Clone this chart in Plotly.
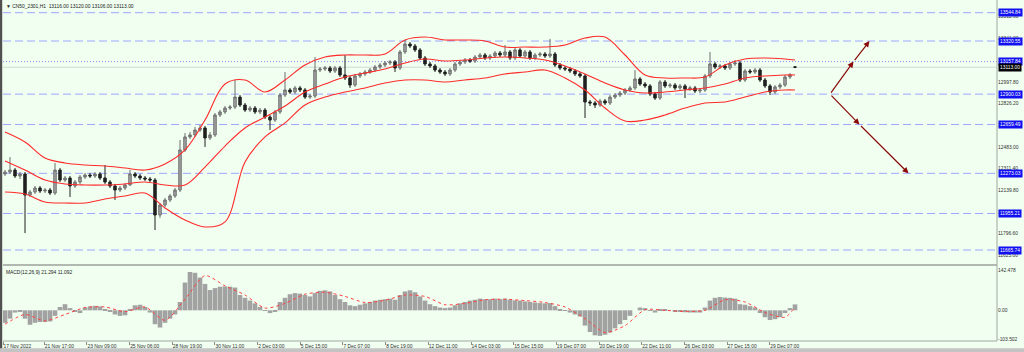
import plotly.graph_objects as go

# ---------------- data ----------------
closes = [12283,12299,12252,12268,12101,12125,12157,12133,12141,12117,
          12299,12220,12236,12173,12204,12244,12260,12252,12268,12236,
          12204,12173,12141,12157,12181,12268,12252,12236,12228,12220,
          11943,12022,12062,12094,12141,12458,12561,12577,12616,12632,
          12553,12577,12735,12759,12790,12798,12877,12814,12774,12790,
          12759,12774,12719,12695,12759,12893,12933,12917,12949,12933,
          12877,12885,13091,13099,13107,13083,13107,13052,13028,12972,
          13044,13060,13075,13091,13115,13131,13147,13155,13107,13234,
          13297,13281,13250,13186,13139,13123,13091,13075,13060,13091,
          13139,13155,13170,13162,13194,13210,13186,13202,13226,13210,
          13234,13186,13250,13202,13234,13186,13210,13218,13202,13218,
          13131,13107,13099,13083,13060,13044,12838,12830,12814,12846,
          12830,12877,12893,12909,12933,12949,13020,12980,12965,12901,
          12869,12996,12965,12972,12949,12965,12941,12949,12925,12933,
          13044,13139,13115,13123,13107,13139,13147,13012,13083,13075,
          13091,13012,12965,12917,12957,12972,13036,13052,13113]
opens = [12268,12283,12299,12252,12268,12101,12125,12157,12133,12141,
         12117,12299,12220,12236,12173,12204,12244,12260,12252,12268,
         12236,12204,12173,12141,12157,12181,12268,12252,12236,12228,
         12220,11943,12022,12062,12094,12141,12458,12561,12577,12616,
         12632,12553,12577,12735,12759,12790,12798,12877,12814,12774,
         12790,12759,12774,12719,12695,12759,12893,12933,12917,12949,
         12933,12877,12885,13091,13099,13107,13083,13107,13052,13028,
         12972,13044,13060,13075,13091,13115,13131,13147,13155,13107,
         13234,13297,13281,13250,13186,13139,13123,13091,13075,13060,
         13091,13139,13155,13170,13162,13194,13210,13186,13202,13226,
         13210,13234,13186,13250,13202,13234,13186,13210,13218,13202,
         13218,13131,13107,13099,13083,13060,13044,12838,12830,12814,
         12846,12830,12877,12893,12909,12933,12949,13020,12980,12965,
         12901,12869,12996,12965,12972,12949,12965,12941,12949,12925,
         12933,13044,13139,13115,13123,13107,13139,13147,13012,13083,
         13075,13091,13012,12965,12917,12957,12972,13036,13116]
highs = [12300,12402,12315,12283,12283,12141,12173,12173,12157,12157,
         12355,12315,12252,12252,12220,12260,12276,12276,12283,12283,
         12339,12220,12189,12173,12196,12300,12283,12268,12252,12244,
         12236,12038,12078,12110,12157,12537,12592,12600,12640,12656,
         12648,12600,12751,12775,12806,12814,13012,12893,12830,12806,
         12806,12790,12790,12735,12775,12909,13075,12949,12965,12965,
         12949,12901,13194,13115,13123,13123,13123,13123,13210,13044,
         13060,13075,13091,13107,13131,13147,13162,13170,13170,13250,
         13329,13313,13297,13265,13202,13155,13139,13107,13091,13107,
         13155,13170,13186,13186,13210,13226,13226,13218,13242,13242,
         13289,13250,13265,13265,13250,13250,13226,13234,13234,13337,
         13234,13147,13123,13115,13099,13075,13060,12854,12846,12862,
         12862,12893,12909,12925,12949,12965,13091,13036,12996,12980,
         12917,13012,13012,12988,12988,12980,12980,12965,12965,12949,
         13060,13234,13155,13139,13139,13155,13170,13162,13099,13099,
         13107,13107,13028,12980,12972,12988,13052,13067,13120]
lows = [12252,12268,12236,12228,11800,12086,12110,12117,12117,12101,
        12101,12204,12204,12086,12157,12189,12228,12236,12236,12220,
        12189,12157,12062,12125,12141,12173,12236,12220,12212,12204,
        11824,11920,12006,12046,12078,12125,12442,12545,12561,12600,
        12482,12537,12561,12719,12743,12775,12782,12798,12759,12759,
        12743,12743,12703,12616,12680,12743,12877,12901,12901,12917,
        12862,12862,12869,13075,13083,13067,13067,13036,13012,12949,
        12957,13028,13044,13060,13075,13099,13115,13131,13075,13091,
        13218,13265,13234,13170,13123,13107,13075,13060,13044,13044,
        13075,13123,13139,13147,13147,13178,13170,13170,13186,13194,
        13194,13170,13170,13186,13186,13170,13170,13194,13186,13186,
        13115,13091,13083,13067,13044,13028,12711,12806,12790,12798,
        12814,12814,12862,12877,12893,12917,12933,12965,12949,12885,
        12854,12854,12949,12949,12933,12933,12869,12925,12909,12909,
        12917,13028,13099,13099,13091,13091,13123,12996,12996,13060,
        13060,12996,12949,12893,12901,12941,12957,13020,13106]

bb_upper = [12600,12521,12394,12355,12339,12331,12315,12299,12347,12458,
            12695,12980,13012,12917,13012,13131,13194,13210,13210,13218,
            13329,13352,13329,13329,13321,13273,13273,13273,13289,13344,
            13352,13210,13052,13028,13028,13036,13131,13178,13186,13178,13170]
bb_middle = [12371,12299,12220,12189,12181,12181,12189,12204,12181,12181,
             12323,12489,12632,12719,12806,12917,12980,13036,13067,13099,
             13147,13178,13162,13170,13186,13194,13186,13170,13123,13060,
             12988,12933,12909,12917,12933,12949,12980,13028,13044,13052,13052]
bb_lower = [12125,12109,12046,12038,12038,12070,12094,12117,11999,11903,
            11848,11888,12363,12561,12672,12814,12877,12917,12949,12988,
            13012,13012,12996,13012,13028,13060,13075,13091,13028,12933,
            12790,12687,12695,12735,12790,12830,12838,12877,12917,12933,12933]

macd_main = [-45,-30,-8,-5,-30,-52,-45,-42,-42,-40,
             -20,12,22,8,-5,-10,10,14,16,14,
             5,-5,-15,-20,-18,5,18,20,12,-8,
             -50,-62,-45,-30,-15,30,100,138,135,118,
             95,73,80,85,86,85,82,55,45,35,
             25,12,-2,-10,-5,30,45,58,62,60,
             55,50,62,70,72,68,55,40,30,18,
             15,20,25,30,35,38,40,42,38,55,
             68,72,65,50,35,22,15,10,8,10,
             18,25,30,35,38,42,40,40,42,40,
             42,38,36,35,32,30,28,26,25,26,
             15,5,-2,-8,-15,-22,-55,-78,-90,-92,
             -88,-80,-65,-50,-35,-20,0,10,8,-2,
             -8,2,2,0,-3,-5,-7,-8,-8,-8,
             10,35,45,48,46,45,42,22,20,15,
             10,-10,-25,-35,-32,-25,-10,8,21.294]
macd_signal = [-50,-15,-38,-15,10,12,-5,12,-36,40,
               125,88,55,8,25,58,65,50,28,36,
               55,50,20,25,38,40,35,28,12,-30,
               -80,-55,2,0,-4,0,38,30,-8,-25,11.092]

time_labels = ["17 Nov 2022", "21 Nov 17:00", "23 Nov 09:00", "25 Nov 06:00",
               "28 Nov 19:00", "30 Nov 11:00", "2 Dec 03:00", "5 Dec 15:00",
               "7 Dec 07:00", "8 Dec 19:00", "12 Dec 11:00", "14 Dec 03:00",
               "15 Dec 15:00", "19 Dec 07:00", "20 Dec 19:00", "22 Dec 11:00",
               "26 Dec 03:00", "27 Dec 15:00", "29 Dec 07:00"]
price_ticks = [11625.00, 11796.60, 11968.20, 12139.80, 12311.40, 12483.00,
               12654.60, 12826.20, 12997.80, 13169.40, 13341.00, 13512.60]
dashed_levels = [13544.84, 13320.55, 12900.03, 12659.49, 12273.03, 11955.21, 11665.74]
dotted_level = 13157.84
last_price = 13113.00
last_ohlc = [13116.00, 13120.00, 13106.00, 13113.00]
macd_last = [21.294, 11.092]
macd_scale = [142.478, 0.00, -103.502]

# projection arrows: (bar, price) pairs
arrow_start = (165, 12900.03)
arrow_up = [(169.7, 13157.84), (172.9, 13320.55)]
arrow_down = [(170.9, 12659.49), (180.7, 12273.03)]

# ---------------- figure ----------------
N = len(closes)
bars = list(range(N))
bb_idx = list(range(0, N - 1, 4)) + [N - 1]

BG = '#F0FFF0'
FONT = 'Liberation Sans'
FS = 4.9

fig = go.Figure()
fig.add_trace(go.Candlestick(
    x=bars, open=opens, high=highs, low=lows, close=closes,
    increasing=dict(line=dict(color='#6E6E6E', width=1), fillcolor='#A4A4A4'),
    decreasing=dict(line=dict(color='#202020', width=1), fillcolor='#202020'),
    whiskerwidth=0, xaxis='x', yaxis='y', hoverinfo='skip'))
for band in (bb_middle, bb_upper, bb_lower):
    fig.add_trace(go.Scatter(x=bb_idx, y=band, mode='lines',
                             line=dict(color='#FF2A2A', width=1.1, shape='spline', smoothing=1.0),
                             xaxis='x', yaxis='y', hoverinfo='skip'))
fig.add_trace(go.Bar(x=bars, y=macd_main, width=0.92,
                     marker=dict(color='#A2A2A2', line=dict(width=0)),
                     xaxis='x', yaxis='y2', hoverinfo='skip'))
fig.add_trace(go.Scatter(x=bb_idx, y=macd_signal, mode='lines',
                         line=dict(color='#FF4040', width=1, dash='dot', shape='spline', smoothing=0.7),
                         xaxis='x', yaxis='y2', hoverinfo='skip'))

tick_pos = [-0.4] + [7.86 + 8.534 * k for k in range(len(time_labels) - 1)]
tick_font = dict(family=FONT, size=FS, color='#303030')

fig.update_layout(
    width=1024, height=352, margin=dict(l=3, r=27, t=1, b=11),
    paper_bgcolor=BG, plot_bgcolor=BG, showlegend=False, hovermode=False,
    xaxis=dict(domain=[0, 1], range=[-0.4, 198.4], anchor='y2',
               rangeslider=dict(visible=False), showgrid=False, zeroline=False,
               tickvals=tick_pos, ticktext=time_labels, ticklabelposition='outside right',
               ticks='outside', ticklen=3, tickcolor='#909090', tickfont=tick_font,
               showline=False, fixedrange=True),
    yaxis=dict(domain=[0.2294, 1], range=[11563.0, 13637.5], side='right',
               showgrid=False, zeroline=False, tickvals=price_ticks,
               ticktext=[f'{v:.2f}' for v in price_ticks], ticks='',
               tickfont=tick_font, showline=False, fixedrange=True),
    yaxis2=dict(domain=[0, 0.2176], range=[-110.5, 155.9], side='right', anchor='x',
                showgrid=False, zeroline=False, tickvals=macd_scale,
                ticktext=['142.478', '0.00', '-103.502'], ticks='',
                tickfont=tick_font, showline=False, fixedrange=True),
)

shapes = []
for lv in dashed_levels:
    shapes.append(dict(type='line', xref='paper', x0=0, x1=1, yref='y', y0=lv, y1=lv,
                       line=dict(color='#9EA6FF', width=1, dash='8px,4px'), layer='below'))
shapes.append(dict(type='line', xref='paper', x0=0, x1=1, yref='y', y0=dotted_level, y1=dotted_level,
                   line=dict(color='#8C8CFF', width=1, dash='1px,2px'), layer='below'))
shapes.append(dict(type='line', xref='paper', x0=0, x1=1, yref='y', y0=last_price, y1=last_price,
                   line=dict(color='#D2DAD2', width=1), layer='below'))
# pane separator and borders
shapes.append(dict(type='rect', xref='paper', yref='paper', x0=0, x1=1, y0=0.2206, y1=0.2265,
                   fillcolor='#B0B8B0', line=dict(width=0)))
shapes.append(dict(type='line', xref='paper', yref='paper', x0=1, x1=1, y0=0, y1=1.003,
                   line=dict(color='#A0A8A0', width=1)))
shapes.append(dict(type='line', xref='paper', yref='paper', x0=0, x1=1, y0=0, y1=0,
                   line=dict(color='#A0A8A0', width=1)))
shapes.append(dict(type='rect', xref='paper', yref='paper', x0=-0.00302, x1=-0.0008, y0=-0.0324, y1=1.003,
                   fillcolor='#505050', line=dict(width=0)))
shapes.append(dict(type='rect', xref='paper', yref='paper', x0=-0.00302, x1=1.03, y0=-0.0324, y1=-0.0215,
                   fillcolor='#C4C4C4', line=dict(width=0)))
fig.update_layout(shapes=shapes)

ann = []
for lv in dashed_levels + [dotted_level]:
    ann.append(dict(x=1, xref='paper', y=lv, yref='y', xanchor='left', xshift=1,
                    text=f'{lv:.2f}', showarrow=False, bgcolor='#1010F0', borderpad=1,
                    font=dict(family=FONT, size=FS, color='white')))
ann.append(dict(x=1, xref='paper', y=last_price, yref='y', xanchor='left', xshift=1,
                text=f'{last_price:.2f}', showarrow=False, bgcolor='#000000', borderpad=1,
                font=dict(family=FONT, size=FS, color='white')))
ann.append(dict(x=0, xref='paper', y=1, yref='paper', xanchor='left', yanchor='top', xshift=1, yshift=-1,
                text='▼ CN50_2301,H1  ' + ' '.join(f'{v:.2f}' for v in last_ohlc), showarrow=False,
                font=dict(family=FONT, size=FS, color='#202020')))
ann.append(dict(x=0, xref='paper', y=0.2176, yref='paper', xanchor='left', yanchor='top', xshift=1, yshift=-1,
                text='MACD(12,26,9) ' + ' '.join(f'{v:.3f}' for v in macd_last), showarrow=False,
                font=dict(family=FONT, size=FS, color='#202020')))
for path in (arrow_up, arrow_down):
    tail = arrow_start
    for head in path:
        ann.append(dict(x=head[0], y=head[1], xref='x', yref='y', ax=tail[0], ay=tail[1],
                        axref='x', ayref='y', text='', showarrow=True, arrowhead=2,
                        arrowsize=1.0, arrowwidth=1.2, arrowcolor='#8B0A0A',
                        standoff=0, startstandoff=0))
        tail = head
fig.update_layout(annotations=ann)

fig.write_html("out.html")
